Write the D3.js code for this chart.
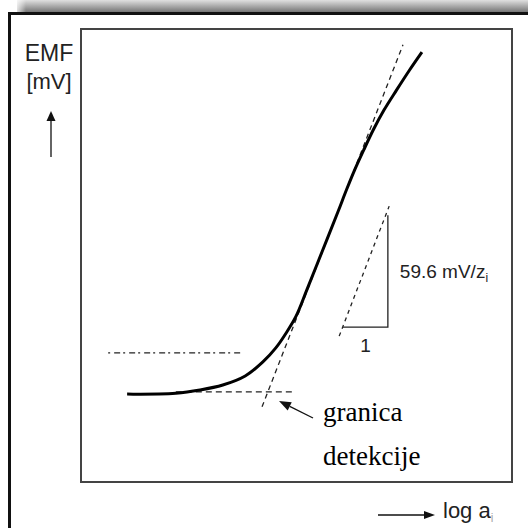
<!DOCTYPE html>
<html>
<head>
<meta charset="utf-8">
<script src="https://cdn.jsdelivr.net/npm/d3@7"></script>
<style>
  html, body { margin: 0; padding: 0; background: #fff; }
  svg { display: block; }
</style>
</head>
<body>
<script>
// ---- data (abstract units: log a on x, EMF on y) ----
const curveX = [1.07, 2.20, 2.76, 3.29, 3.81, 4.22, 4.52, 4.76, 4.99, 5.24, 5.60, 5.96, 6.16, 6.35, 6.56, 6.78, 7.03, 7.32, 7.62, 7.91];
const curveY = [1.94, 1.96, 2.03, 2.14, 2.34, 2.65, 2.96, 3.29, 3.66, 4.24, 5.10, 5.96, 6.45, 6.89, 7.33, 7.77, 8.21, 8.65, 9.09, 9.49];
const tangentX = [4.20, 7.47];
const tangentY = [1.66, 9.65];
const baselineX = [2.20, 4.90];
const baselineY = [1.99, 1.99];
const refLineX = [0.63, 3.74];
const refLineY = [2.85, 2.85];
const slopeTriX = [5.99, 7.15];     // hypotenuse ends
const slopeTriY = [3.22, 6.09];
const triLegX = [6.08, 7.12];       // horizontal leg start, vertical leg x
const triLegY = [3.42, 5.89];       // bottom leg y, top of vertical leg
const slopeLabel = "59.6 mV/z";
const slopeSub = "i";
const runLabel = "1";
const yLabel = ["EMF", "[mV]"];
const xLabel = "log a";
const xSub = "i";
const noteLines = ["granica", "detekcije"];

const W = 528, H = 528;
const box = { left: 81, top: 29, right: 512, bottom: 482 };

const x = d3.scaleLinear().domain([0, 10]).range([box.left, box.right]);
const y = d3.scaleLinear().domain([0, 10]).range([box.bottom, box.top]);

const svg = d3.select("body").append("svg").attr("width", W).attr("height", H);
const defs = svg.append("defs");

// top shadow gradient
const gv = defs.append("linearGradient").attr("id", "gv").attr("x1", 0).attr("y1", 0).attr("x2", 0).attr("y2", 1);
gv.append("stop").attr("offset", "0%").attr("stop-color", "#e0e0e0");
gv.append("stop").attr("offset", "100%").attr("stop-color", "#767676");
const gh = defs.append("linearGradient").attr("id", "gh").attr("x1", 0).attr("y1", 0).attr("x2", 1).attr("y2", 0);
gh.append("stop").attr("offset", "0%").attr("stop-color", "#fff").attr("stop-opacity", 1);
gh.append("stop").attr("offset", "100%").attr("stop-color", "#fff").attr("stop-opacity", 0);

svg.append("rect").attr("x", 17).attr("y", 0).attr("width", W - 17).attr("height", 12).attr("fill", "url(#gv)");
svg.append("rect").attr("x", 14).attr("y", 0).attr("width", 12).attr("height", 12).attr("fill", "url(#gh)");

// outer frame (open to right/bottom)
svg.append("path")
  .attr("d", `M9.5,${H} L9.5,13.5 L${W},13.5`)
  .attr("fill", "none").attr("stroke", "#111").attr("stroke-width", 3);

// inner plot box
svg.append("rect")
  .attr("x", box.left).attr("y", box.top)
  .attr("width", box.right - box.left).attr("height", box.bottom - box.top)
  .attr("fill", "none").attr("stroke", "#444").attr("stroke-width", 2);

function arrow(x1, y1, x2, y2, len, half) {
  const a = Math.atan2(y2 - y1, x2 - x1);
  const bx = x2 - len * Math.cos(a), by = y2 - len * Math.sin(a);
  svg.append("line").attr("x1", x1).attr("y1", y1).attr("x2", bx).attr("y2", by)
    .attr("stroke", "#111").attr("stroke-width", 1.3);
  const px = -Math.sin(a) * half, py = Math.cos(a) * half;
  svg.append("path")
    .attr("d", `M${x2},${y2} L${bx + px},${by + py} L${bx - px},${by - py} Z`)
    .attr("fill", "#111");
}

const line = d3.line().x(d => x(d[0])).y(d => y(d[1]));

// reference dash-dot line
svg.append("path").datum(d3.zip(refLineX, refLineY)).attr("d", line)
  .attr("fill", "none").attr("stroke", "#222").attr("stroke-width", 1.2)
  .attr("stroke-dasharray", "2,4,6,3");

// baseline dashed
svg.append("path").datum(d3.zip(baselineX, baselineY)).attr("d", line)
  .attr("fill", "none").attr("stroke", "#222").attr("stroke-width", 1.3)
  .attr("stroke-dasharray", "6,4");

// tangent dashed
svg.append("path").datum(d3.zip(tangentX, tangentY)).attr("d", line)
  .attr("fill", "none").attr("stroke", "#222").attr("stroke-width", 1.3)
  .attr("stroke-dasharray", "5,4");

// main curve
const curveLine = d3.line().x(d => x(d[0])).y(d => y(d[1])).curve(d3.curveCatmullRom.alpha(0.5));
svg.append("path").datum(d3.zip(curveX, curveY))
  .attr("d", curveLine)
  .attr("fill", "none").attr("stroke", "#000").attr("stroke-width", 3)
  .attr("stroke-linejoin", "round");

// slope triangle
svg.append("path").datum(d3.zip(slopeTriX, slopeTriY)).attr("d", line)
  .attr("fill", "none").attr("stroke", "#222").attr("stroke-width", 1.3)
  .attr("stroke-dasharray", "4,4");
svg.append("path")
  .datum([[triLegX[0], triLegY[0]], [triLegX[1], triLegY[0]], [triLegX[1], triLegY[1]]])
  .attr("d", line)
  .attr("fill", "none").attr("stroke", "#222").attr("stroke-width", 1.3);

const sans = "'Liberation Sans', Arial, sans-serif";
const serif = "'Liberation Serif', 'Times New Roman', serif";

const sl = svg.append("text").attr("x", x(triLegX[1]) + 12).attr("y", 278)
  .attr("font-family", sans).attr("font-size", 19).attr("fill", "#222");
sl.append("tspan").text(slopeLabel);
sl.append("tspan").attr("dy", 4).attr("font-size", 12).text(slopeSub);

svg.append("text").attr("x", (x(triLegX[0]) + x(triLegX[1])) / 2).attr("y", 352)
  .attr("text-anchor", "middle").attr("font-family", sans).attr("font-size", 19)
  .attr("fill", "#222").text(runLabel);

// detection-limit annotation
arrow(313, 418, 279, 401, 12, 4.5);
svg.selectAll("text.note").data(noteLines).join("text").attr("class", "note")
  .attr("x", 323).attr("y", (d, i) => 421 + i * 44)
  .attr("font-family", serif).attr("font-size", 27).attr("fill", "#000")
  .text(d => d);

// y-axis label and arrow
svg.selectAll("text.ylab").data(yLabel).join("text").attr("class", "ylab")
  .attr("x", 49).attr("y", (d, i) => 61 + i * 28)
  .attr("text-anchor", "middle").attr("font-family", sans)
  .attr("font-size", (d, i) => i === 0 ? 23 : 22).attr("fill", "#222")
  .text(d => d);
arrow(51, 157, 51, 111, 10, 4.5);

// x-axis label and arrow
arrow(378, 515, 435, 515, 11, 4);
const xl = svg.append("text").attr("x", 443).attr("y", 518)
  .attr("font-family", sans).attr("font-size", 22).attr("fill", "#222");
xl.append("tspan").text(xLabel);
xl.append("tspan").attr("dy", 4).attr("font-size", 12).attr("fill", "#aaa").text(xSub);
</script>
</body>
</html>
